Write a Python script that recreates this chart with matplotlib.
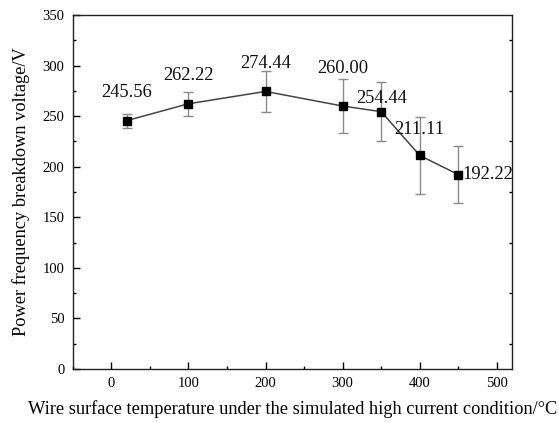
import matplotlib
matplotlib.use("Agg")
from matplotlib import pyplot as plt
from matplotlib.ticker import MultipleLocator

plt.rcParams['font.family'] = ['Liberation Serif', 'DejaVu Serif']

temperature = [20, 100, 200, 300, 350, 400, 450]
voltage = [245.56, 262.22, 274.44, 260.00, 254.44, 211.11, 192.22]
error = [7, 12, 20, 27, 29.5, 38, 28.5]
labels = ["245.56", "262.22", "274.44", "260.00", "254.44", "211.11", "192.22"]
# where each value label sits (data coords) and how it is aligned
label_x = [20, 100, 200, 300, 350, 400, 455]
label_y = [273, 290, 302.5, 297.5, 267, 236.5, 192]
label_ha = ["center"] * 6 + ["left"]

fig = plt.figure(figsize=(5.59, 4.23), dpi=100)
ax = fig.add_axes([0.130, 0.1277, 0.7865, 0.8368])

ax.errorbar(temperature, voltage, yerr=error, fmt="none", ecolor="#8a8a8a",
            elinewidth=1.0, capsize=3.5, capthick=1.0, zorder=2)
ax.plot(temperature, voltage, color="#444444", linewidth=1.1, zorder=3)
ax.plot(temperature, voltage, linestyle="none", marker="s", markersize=5.5,
        color="black", zorder=4)

for x, y, t, ha in zip(label_x, label_y, labels, label_ha):
    ax.text(x, y, t, ha=ha, va="center", fontsize=13.3, color="#111111")

ax.set_xlim(-50, 520)
ax.set_ylim(0, 350)
ax.xaxis.set_major_locator(MultipleLocator(100))
ax.xaxis.set_minor_locator(MultipleLocator(50))
ax.yaxis.set_major_locator(MultipleLocator(50))
ax.yaxis.set_minor_locator(MultipleLocator(25))

ax.tick_params(which="both", direction="in", top=False, right=False,
               labelsize=10.5, width=1.0)
ax.tick_params(which="major", length=5)
ax.tick_params(which="minor", length=2.5)
ax.tick_params(axis="y", which="major", pad=6)
ax.tick_params(axis="x", which="major", pad=6)
ax.tick_params(axis="y", which="minor", right=True)

for s in ax.spines.values():
    s.set_linewidth(1.0)
    s.set_color("#222222")

ax.set_xlabel("Wire surface temperature under the simulated high current condition/\u00b0C",
              fontsize=13.2, labelpad=7)
ax.set_ylabel("Power frequency breakdown voltage/V", fontsize=13.2, labelpad=9)

fig.savefig("out.png", dpi=100)
